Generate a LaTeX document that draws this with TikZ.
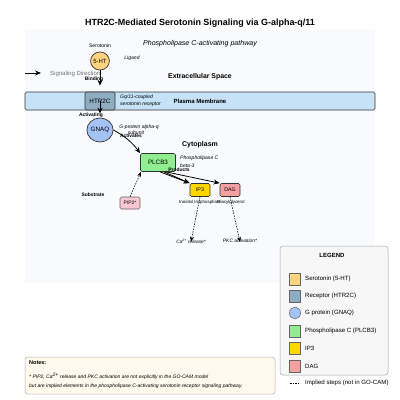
\documentclass[tikz,border=0pt]{standalone}
\usepackage{fontspec}
\setmainfont{Liberation Sans}
\usetikzlibrary{arrows.meta,shapes.geometric}
\newcommand\fsz[1]{\fontsize{#1}{#1}\selectfont}
\definecolor{bgc}{HTML}{F9FAFC}
\definecolor{serc}{HTML}{FFD27F}
\definecolor{recc}{HTML}{8EADC1}
\definecolor{memc}{HTML}{C6E2F7}
\definecolor{gnc}{HTML}{A4C2F4}
\definecolor{plcc}{HTML}{90EE90}
\definecolor{ipc}{HTML}{FFD700}
\definecolor{dagc}{HTML}{F4A0A0}
\definecolor{pipc}{HTML}{F8C8D0}
\definecolor{legc}{HTML}{F7F7F7}
\definecolor{notc}{HTML}{FFF9EE}
\tikzset{
  ent/.style={draw=black!80, line width=0.7pt, inner sep=0pt, font=\fsz{6.3}},
  rbox/.style={ent, rectangle, rounded corners=1.5pt},
  ell/.style={ent, ellipse},
  lab/.style={inner sep=0pt, font=\fsz{5.05}\itshape},
  blab/.style={inner sep=0pt, font=\fsz{4.9}\bfseries},
  arr/.style={-{Stealth[length=6pt,width=5pt]}, line width=0.8pt},
  darr/.style={-{Stealth[length=5pt,width=4pt]}, line width=0.6pt, dashed, dash pattern=on 1.5pt off 1.2pt},
  sw/.style={draw=black!60, line width=0.5pt, inner sep=0pt, minimum width=11pt, minimum height=12pt},
  ltxt/.style={inner sep=0pt, anchor=west, font=\fsz{6.1}},
}
\begin{document}
\begin{tikzpicture}[x=1pt,y=-1pt]
\useasboundingbox (0,0) rectangle (400,400);
\fill[white] (0,0) rectangle (400,400);
\fill[bgc] (25,30) rectangle (375,283);
% title
\node[inner sep=0pt, font=\fsz{8.95}\bfseries] (title) at (200,23) {HTR2C-Mediated Serotonin Signaling via G-alpha-q/11};
\node[inner sep=0pt, font=\fsz{7.05}\itshape] (sub) at (200,44) {Phospholipase C-activating pathway};
% signaling direction
\coordinate (sd1) at (25,73);
\coordinate (sd2) at (41,73);
\draw[arr] (sd1) -- (sd2);
\node[inner sep=0pt, anchor=west, font=\fsz{6}, text=black!55] (sdl) at (50,74) {Signaling Direction};
% extracellular
\node[inner sep=0pt, font=\fsz{6.9}\bfseries] (ecs) at (200,77) {Extracellular Space};
% membrane
\node[rbox, fill=memc, minimum width=350pt, minimum height=18pt] (mem) at (200,101) {};
\node[inner sep=0pt, font=\fsz{6}\bfseries] (meml) at (200,101) {Plasma Membrane};
% HTR2C
\node[rbox, fill=recc, minimum width=30pt, minimum height=18pt] (htr) at (100,101) {HTR2C};
\node[lab, anchor=west] (htrl1) at (120,97) {Gq/11-coupled};
\node[lab, anchor=west] (htrl2) at (120,104) {serotonin receptor};
% 5-HT
\node[ell, fill=serc, minimum width=16pt, minimum height=18pt, font=\fsz{6}] (ht) at (100,61) {5-HT};
\node[inner sep=0pt, font=\fsz{5.1}] (serl) at (100,46) {Serotonin};
\node[lab] (ligl) at (132,58) {Ligand};
\draw[arr, shorten >=6pt] (ht.south) -- (htr.north);
\node[blab] (bind) at (94,79) {Binding};
% GNAQ
\node[ell, fill=gnc, minimum width=20pt, minimum height=24pt] (gn) at (100,130) {GNAQ};
\draw[arr, shorten >=4pt] (htr.center) -- (gn.north);
\node[blab] (act1) at (91,115) {Activating};
\node[lab] (gnl1) at (139,127) {G-protein alpha-q};
\node[lab] (gnl2) at (136,133) {subunit};
\node[blab] (act2) at (131,136) {Activates};
% cytoplasm
\node[inner sep=0pt, font=\fsz{7}\bfseries] (cyt) at (200,145) {Cytoplasm};
% PLCB3
\node[rbox, fill=plcc, minimum width=35pt, minimum height=18pt] (plc) at (158,162.5) {PLCB3};
\node[lab, anchor=west] (plcl1) at (180,158) {Phospholipase C};
\node[lab, anchor=west] (plcl2) at (180,165.5) {beta-3};
\draw[arr] (gn.east) to[bend left=12] (plc.north west);
% IP3, DAG
\node[rbox, fill=ipc, minimum width=20pt, minimum height=13pt, font=\fsz{5.3}] (ip) at (200,190) {IP3};
\node[rbox, fill=dagc, minimum width=20pt, minimum height=13pt, font=\fsz{5.3}] (dag) at (230,190) {DAG};
\draw[arr] ([xshift=2pt]plc.south) -- (ip.north west);
\draw[arr] ([xshift=6pt]plc.south) -- (ip.north west);
\draw[arr] ([xshift=8pt]plc.south) -- (dag.north west);
\node[blab] (prod) at (179,170) {Products};
\node[inner sep=0pt, font=\fsz{4.4}] (ipl) at (200,202) {Inositol trisphosphate};
\node[inner sep=0pt, font=\fsz{4.4}] (dagl) at (231,202) {Diacylglycerol};
% PIP2
\node[rbox, fill=pipc, draw=black!60, minimum width=20pt, minimum height=12pt, font=\fsz{5}] (pip) at (130,203) {PIP2*};
\node[blab] (subl) at (93,195) {Substrate};
\draw[darr] (pip.north) -- ([xshift=-17pt]plc.south);
% downstream
\node[inner sep=0pt, font=\fsz{4.8}\itshape] (ca) at (191,241) {Ca\textsuperscript{2+} release*};
\node[inner sep=0pt, font=\fsz{4.9}\itshape] (pkc) at (240,241) {PKC activation*};
\draw[darr] (ip.south) -- ([yshift=-3pt]ca.north);
\draw[darr] (dag.south) -- ([yshift=-3pt]pkc.north);
% legend
\node[draw=black!35, fill=legc, rounded corners=3pt, line width=0.5pt, minimum width=108pt, minimum height=129pt, inner sep=0pt] (leg) at (334,310.5) {};
\node[inner sep=0pt, font=\fsz{6}\bfseries] (legt) at (332,255) {LEGEND};
\node[sw, fill=serc] (s1) at (295,279) {};
\node[ltxt] (t1) at (305,279) {Serotonin (5-HT)};
\node[sw, fill=recc] (s2) at (295,296) {};
\node[ltxt] (t2) at (305,296) {Receptor (HTR2C)};
\node[sw, ellipse, fill=gnc] (s3) at (295,313) {};
\node[ltxt] (t3) at (305,313) {G protein (GNAQ)};
\node[sw, fill=plcc] (s4) at (295,331) {};
\node[ltxt] (t4) at (305,331) {Phospholipase C (PLCB3)};
\node[sw, fill=ipc] (s5) at (295,348) {};
\node[ltxt] (t5) at (305,348) {IP3};
\node[sw, fill=dagc] (s6) at (295,366) {};
\node[ltxt] (t6) at (305,366) {DAG};
\coordinate (dl1) at (290,383);
\coordinate (dl2) at (300,383);
\draw[line width=0.6pt, dash pattern=on 1.5pt off 1pt] (dl1) -- (dl2);
\node[ltxt] (t7) at (305,383) {Implied steps (not in GO-CAM)};
% notes
\node[draw=black!30, fill=notc, rounded corners=3pt, line width=0.5pt, minimum width=250pt, minimum height=37pt, inner sep=0pt] (notes) at (150,375.5) {};
\node[inner sep=0pt, anchor=west, font=\fsz{5.5}\bfseries] (nt) at (29,363) {Notes:};
\node[inner sep=0pt, anchor=west, font=\fsz{5}\itshape] (n1) at (29,376) {* PIP2, Ca\textsuperscript{2+} release and PKC activation are not explicitly in the GO-CAM model};
\node[inner sep=0pt, anchor=west, font=\fsz{5}\itshape] (n2) at (29,386) {but are implied elements in the phospholipase C-activating serotonin receptor signaling pathway.};
\end{tikzpicture}
\end{document}
